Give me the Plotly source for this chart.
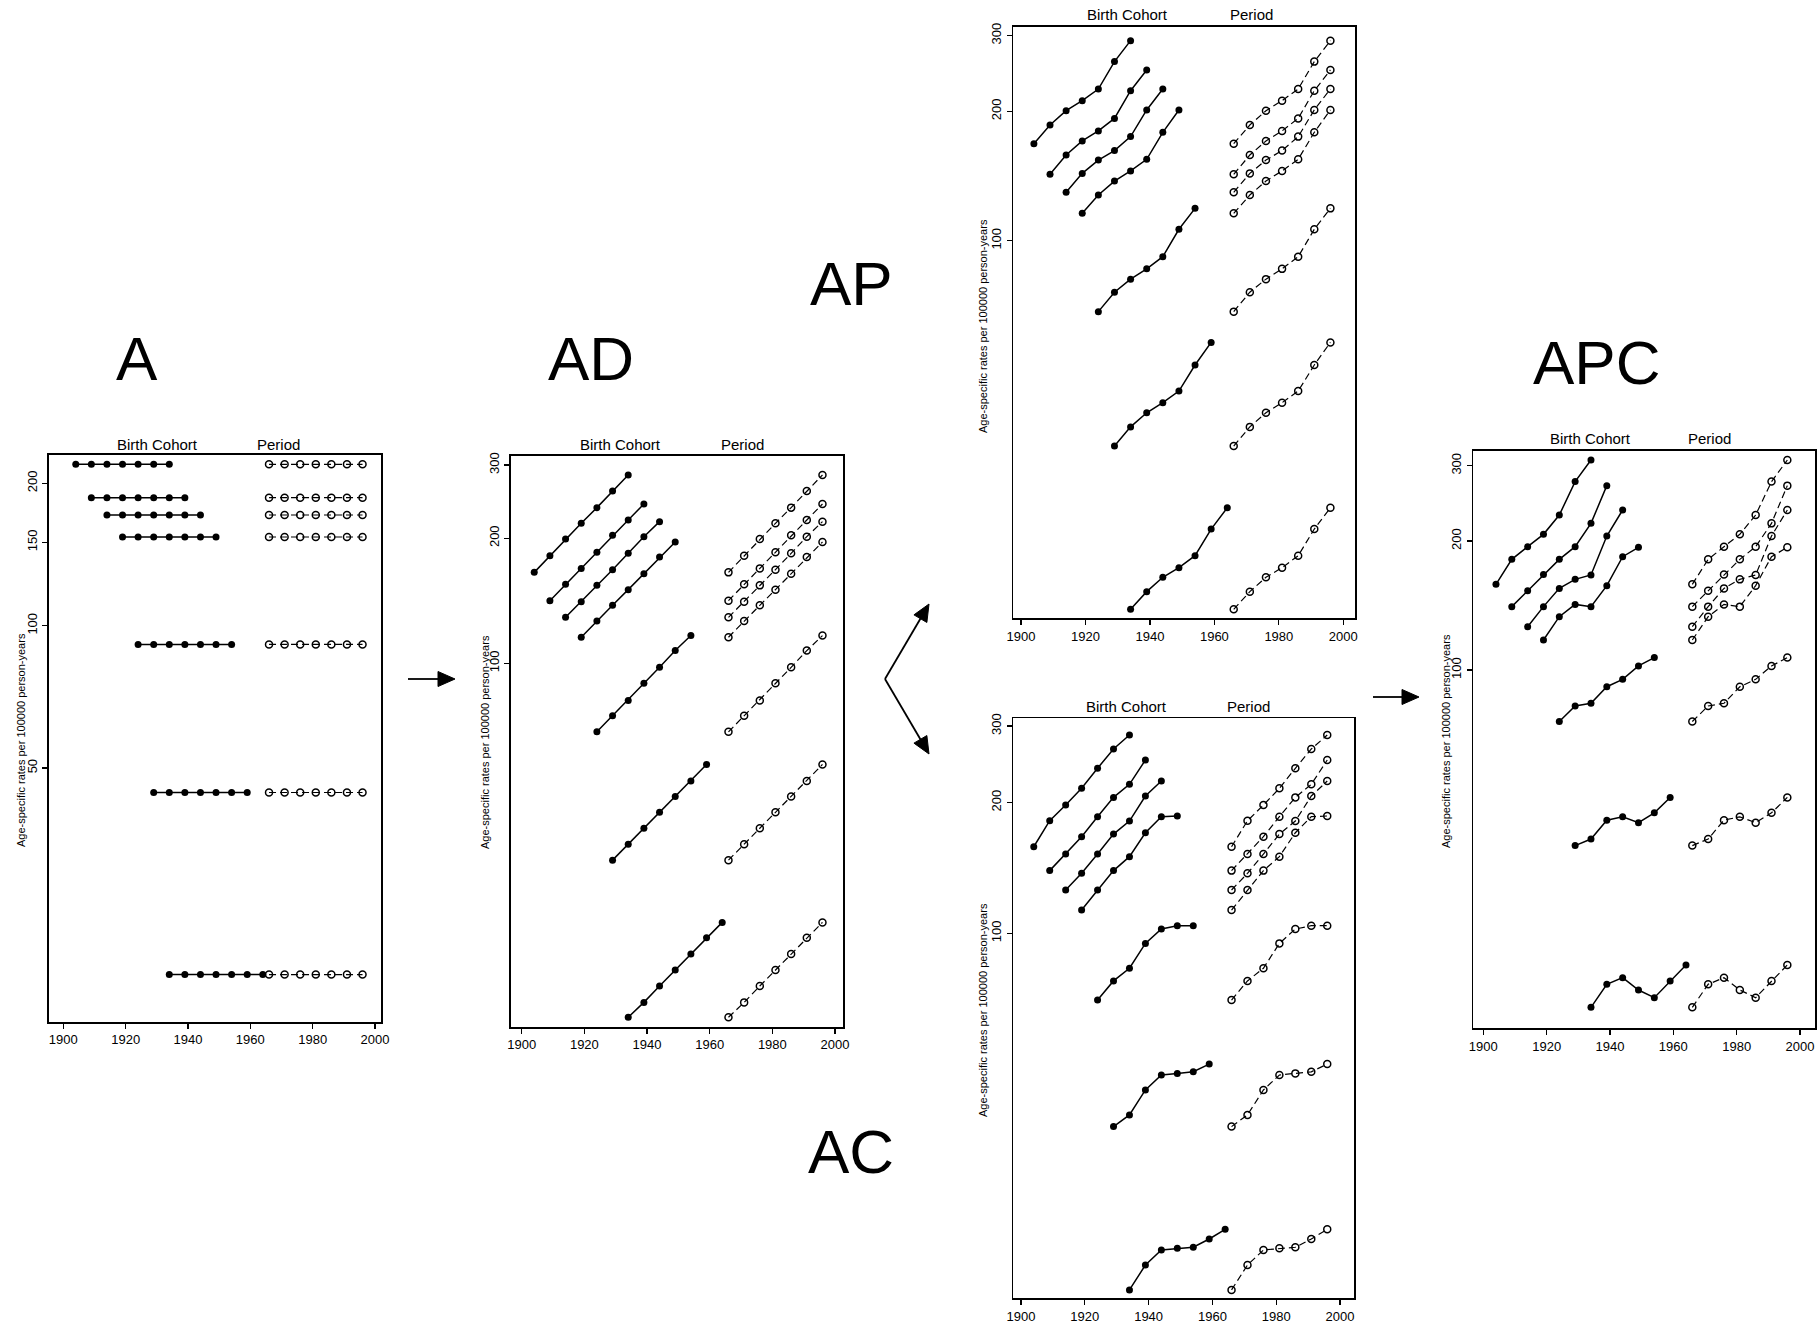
import math
import plotly.graph_objects as go

W, H = 1820, 1327

# ---------------- data ----------------
period_years = [1966, 1971, 1976, 1981, 1986, 1991, 1996]
age_mid = [62, 57, 52, 47, 42, 37, 32]

rates_A = [
    [219.4, 219.4, 219.4, 219.4, 219.4, 219.4, 219.4],
    [186.5, 186.5, 186.5, 186.5, 186.5, 186.5, 186.5],
    [171.4, 171.4, 171.4, 171.4, 171.4, 171.4, 171.4],
    [154.0, 154.0, 154.0, 154.0, 154.0, 154.0, 154.0],
    [91.3, 91.3, 91.3, 91.3, 91.3, 91.3, 91.3],
    [44.4, 44.4, 44.4, 44.4, 44.4, 44.4, 44.4],
    [18.3, 18.3, 18.3, 18.3, 18.3, 18.3, 18.3],
]
rates_AD = [
    [165.5, 181.5, 199.1, 217.2, 236.9, 259.8, 283.9],
    [141.5, 154.9, 169.2, 184.9, 203.2, 221.2, 241.7],
    [129.0, 140.7, 154.0, 168.0, 183.9, 201.7, 219.2],
    [115.5, 126.4, 137.9, 150.4, 164.3, 180.3, 195.8],
    [68.4, 74.8, 81.4, 89.5, 97.8, 107.3, 116.6],
    [33.6, 36.7, 40.1, 43.8, 47.8, 52.1, 57.1],
    [14.07, 15.28, 16.73, 18.28, 19.97, 21.87, 23.8],
]
rates_AP = [
    [168.1, 185.8, 200.6, 211.7, 225.3, 260.9, 291.9],
    [142.7, 158.2, 170.6, 180.0, 192.5, 223.3, 249.5],
    [129.6, 143.4, 154.0, 162.0, 174.6, 201.4, 225.3],
    [115.8, 127.7, 137.6, 145.3, 154.6, 178.7, 201.4],
    [68.4, 75.9, 81.4, 86.0, 91.8, 106.3, 118.9],
    [33.3, 36.9, 39.8, 42.0, 44.7, 51.4, 58.0],
    [13.89, 15.27, 16.49, 17.36, 18.51, 21.35, 23.93],
]
rates_AC = [
    [158.2, 181.6, 197.3, 215.6, 239.8, 265.6, 286.0],
    [139.4, 152.2, 166.9, 185.5, 205.5, 220.2, 250.5],
    [125.8, 137.4, 152.2, 169.2, 181.3, 207.0, 224.1],
    [113.1, 125.8, 139.4, 150.1, 170.4, 185.5, 186.2],
    [70.2, 77.7, 83.1, 94.8, 102.3, 104.1, 104.1],
    [35.9, 38.2, 43.6, 47.2, 47.6, 48.0, 50.0],
    [15.11, 17.24, 18.67, 18.84, 18.94, 19.79, 20.83],
]
rates_APC = [
    [158.5, 181.3, 194.1, 207.4, 230.1, 275.4, 309.3],
    [140.6, 153.2, 167.2, 181.3, 194.1, 220.0, 269.5],
    [126.2, 140.6, 155.1, 162.8, 166.7, 205.5, 236.4],
    [117.5, 133.2, 142.3, 140.6, 157.4, 183.9, 193.4],
    [75.8, 82.4, 83.6, 91.4, 95.1, 102.2, 106.9],
    [38.9, 40.3, 44.6, 45.4, 44.0, 46.4, 50.4],
    [16.30, 18.45, 19.12, 17.89, 17.17, 18.78, 20.47],
]

x_ticks = [1900, 1920, 1940, 1960, 1980, 2000]
y_ticks_A = [50, 100, 150, 200]
y_ticks_other = [100, 200, 300]
panel_names = ["A", "AD", "AP", "AC", "APC"]
ytitle = "Age-specific rates per 100000 person-years"

# ---------------- layout geometry (pixels) ----------------
# box: left, right, top, bottom ; xt: pixel of 1900, pixel of 2000 ; yt: pixel of 100, px per decade
panels = [
    dict(rates=rates_A, box=(49, 381, 455, 1022), xt=(63.3, 375.0), yt=(625.7, 473.0),
         yticks=y_ticks_A, lab=(137, 358), bc=(157, 444), pe=(278, 444), yl=(21, 740)),
    dict(rates=rates_AD, box=(510.7, 843.3, 456, 1026.7), xt=(521.7, 835.0), yt=(663.3, 415.6),
         yticks=y_ticks_other, lab=(591, 359), bc=(620, 444), pe=(742, 444), yl=(485, 742)),
    dict(rates=rates_AP, box=(1013.3, 1355, 26.7, 618.3), xt=(1021, 1343.3), yt=(240.7, 430.0),
         yticks=y_ticks_other, lab=(851, 283), bc=(1127, 14), pe=(1251, 14), yl=(983, 326)),
    dict(rates=rates_AC, box=(1013.3, 1354.3, 718.3, 1298.3), xt=(1021, 1340), yt=(933.3, 434.5),
         yticks=y_ticks_other, lab=(851, 1151), bc=(1126, 706), pe=(1248, 706), yl=(983, 1010)),
    dict(rates=rates_APC, box=(1473.3, 1815, 450.7, 1028.3), xt=(1483.3, 1800), yt=(670, 428.2),
         yticks=y_ticks_other, lab=(1596, 362), bc=(1590, 439), pe=(1709, 439), yl=(1446, 741)),
]


def px(x):
    return x / W


def py(y):
    return 1 - y / H


fig = go.Figure()
annotations = []
shapes = []
LAB_FONT = "Liberation Sans Narrow, Arial Narrow, Liberation Sans, Arial"
TXT_FONT = "Liberation Sans, Arial, Helvetica, sans-serif"

for i, p in enumerate(panels):
    n = "" if i == 0 else str(i + 1)
    xa, ya = "x" + n, "y" + n
    L, R, T, B = p["box"]
    p19, p20 = p["xt"]
    ppy = (p20 - p19) / 100.0
    xr = [1900 + (L - p19) / ppy, 1900 + (R - p19) / ppy]
    p100, k = p["yt"]
    yr = [2 - (B - p100) / k, 2 + (p100 - T) / k]

    for r, (age, vals) in enumerate(zip(age_mid, p["rates"])):
        cohorts = [yr_ - age for yr_ in period_years]
        fig.add_trace(go.Scatter(
            x=cohorts, y=vals, xaxis=xa, yaxis=ya, mode="lines+markers",
            line=dict(color="black", width=1.5),
            marker=dict(symbol="circle", size=7, color="black"),
            showlegend=False, hoverinfo="skip"))
        fig.add_trace(go.Scatter(
            x=period_years, y=vals, xaxis=xa, yaxis=ya, mode="lines+markers",
            line=dict(color="black", width=1.2, dash="7px,4px"),
            marker=dict(symbol="circle-open", size=7, color="black", line=dict(width=1.5)),
            showlegend=False, hoverinfo="skip"))

    axis_common = dict(showgrid=False, zeroline=False, showline=True, mirror=True,
                       linecolor="black", linewidth=1.8, ticks="outside", ticklen=5,
                       tickwidth=1.3, tickcolor="black", automargin=False,
                       tickfont=dict(family=TXT_FONT, size=13, color="black"))
    fig.layout["xaxis" + n] = dict(
        domain=[px(L), px(R)], range=xr, anchor=ya, tickvals=x_ticks,
        ticktext=[str(v) for v in x_ticks], **axis_common)
    fig.layout["yaxis" + n] = dict(
        domain=[py(B), py(T)], range=yr, type="log", anchor=xa, tickvals=p["yticks"],
        ticktext=[str(v) for v in p["yticks"]], tickangle=-90, **axis_common)

    # panel letters
    annotations.append(dict(x=px(p["lab"][0]), y=py(p["lab"][1]), xref="paper", yref="paper",
                            text=panel_names[i], showarrow=False, xanchor="center", yanchor="middle",
                            font=dict(family=LAB_FONT, size=62, color="black")))
    # headers
    for key, txt in (("bc", "Birth Cohort"), ("pe", "Period")):
        annotations.append(dict(x=px(p[key][0]), y=py(p[key][1]), xref="paper", yref="paper",
                                text=txt, showarrow=False, xanchor="center", yanchor="middle",
                                font=dict(family=TXT_FONT, size=15, color="black")))
    # y title
    annotations.append(dict(x=px(p["yl"][0]), y=py(p["yl"][1]), xref="paper", yref="paper",
                            text=ytitle, showarrow=False, textangle=-90,
                            xanchor="center", yanchor="middle",
                            font=dict(family=TXT_FONT, size=11, color="black")))


def arrow(x0, y0, x1, y1, head=17, half=7.5, width=1.8):
    dx, dy = x1 - x0, y1 - y0
    d = math.hypot(dx, dy)
    ux, uy = dx / d, dy / d
    bx, by = x1 - ux * head, y1 - uy * head
    nx, ny = -uy, ux
    shapes.append(dict(type="line", xref="paper", yref="paper",
                       x0=px(x0), y0=py(y0), x1=px(bx + ux * 2), y1=py(by + uy * 2),
                       line=dict(color="black", width=width)))
    path = "M {} {} L {} {} L {} {} Z".format(
        px(x1), py(y1), px(bx + nx * half), py(by + ny * half), px(bx - nx * half), py(by - ny * half))
    shapes.append(dict(type="path", xref="paper", yref="paper", path=path,
                       fillcolor="black", line=dict(color="black", width=1)))


arrow(408, 679, 455, 679)
arrow(885, 679, 929, 604)
arrow(885, 679, 929, 754)
arrow(1373, 697, 1419, 697)

fig.update_layout(width=W, height=H, margin=dict(l=0, r=0, t=0, b=0), autosize=False,
                  paper_bgcolor="white", plot_bgcolor="white", hovermode=False,
                  annotations=annotations, shapes=shapes, showlegend=False)

fig.write_html("out.html",
               config={"displayModeBar": False, "staticPlot": True},
               post_script="document.body.style.margin='0px';document.body.style.padding='0px';"
                           "document.body.style.overflow='hidden';")
